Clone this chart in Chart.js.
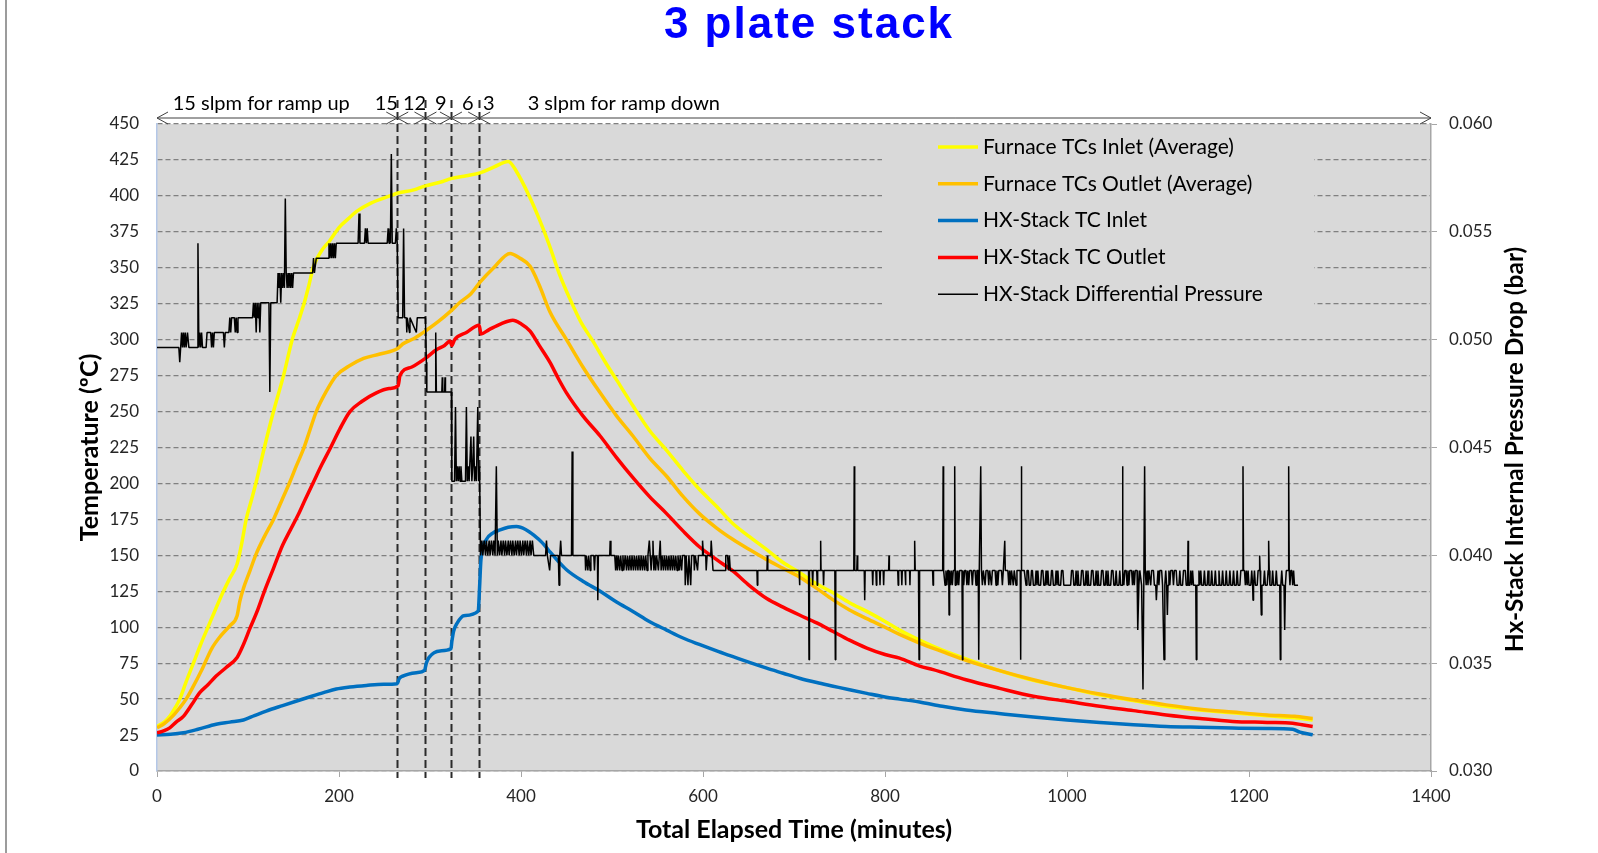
<!DOCTYPE html>
<html lang="en">
<head>
    <meta charset="UTF-8">
    <title>3 plate stack</title>
    <script src="https://cdn.jsdelivr.net/npm/chart.js"></script>
    <style>
        html, body {
            margin: 0;
            padding: 0;
            background: #fff;
        }
        .chart-container {
            width: 1598px;
            height: 853px;
        }
    </style>
</head>
<body>
    <div class="chart-container">
        <canvas id="stackChart" width="1598" height="853"></canvas>
    </div>
    <script>
        // [elapsed minutes, temperature degC]
        const furnaceInlet = [
            [0,31],[8,34],[14,38],[20,44],[25,50],[32,62],[40,75],[48,88],[56,100],[64,112],[73,125],[80,134],[88,144],
            [93,158],[98,175],[104,189],[109,201],[118,225],[128,250],[139,275],[149,301],[156,314],[162,326],[167,338],
            [172,351],[181,362],[190,369],[200,378],[210,384],[219,389],[235,395],[256,400],[265,402],[281,404],[295,407],
            [314,410],[323,412],[340,414],[355,416],[370,420],[386,424],[395,417],[409,400],[420,384],[431,366],[442,346],
            [454,328],[466,312],[479,299],[492,285],[505,272],[523,254],[541,237],[560,223],[578,209],[596,196],[615,184],
            [633,172],[651,163],[670,154],[688,145],[706,138],[725,130],[743,124],[761,117],[780,111],[800,104],[816,98],
            [838,91],[863,84],[889,78],[925,70],[963,63],[1000,58],[1036,53],[1073,49],[1109,45],[1146,42.5],[1182,40.5],
            [1220,38.5],[1250,37],[1270,35.5]
        ];
        const furnaceOutlet = [
            [0,30],[8,33],[17,38],[25,44],[32,50],[40,59],[49,70],[60,85],[70,94],[80,101],[88,108],[91,118],[95,127],
            [102,139],[109,151],[118,163],[128,175],[137,188],[146,201],[153,212],[161,224],[168,237],[175,250],[186,264],
            [197,275],[212,282],[227,287],[245,290],[265,294],[270,297],[283,301],[295,306],[310,313],[323,320],[333,326],
            [345,332],[355,340],[370,350],[388,360],[398,357],[410,351],[420,338],[432,319],[450,300],[468,281],[487,263],
            [505,247],[523,233],[541,218],[560,205],[578,191],[596,179],[615,169],[633,161],[651,154],[670,147],[688,141],
            [706,135],[725,127],[743,119],[761,112],[780,106],[800,100],[816,95],[838,89],[863,83],[889,77],[925,70],
            [963,63.5],[1000,58],[1036,53.5],[1073,49.5],[1109,46],[1146,43],[1182,41],[1220,39],[1250,38],[1270,36.5]
        ];
        const stackInlet = [
            [0,25],[15,25.5],[29,26.6],[45,29],[65,32.5],[80,34],[95,35.5],[107,38.5],[120,41.7],[138,45.5],[157,49.4],
            [170,52],[183,54.5],[197,57],[212,58.4],[230,59.5],[249,60.3],[264,60.7],[266,64],[270,66],[285,68.4],[294,70],
            [296,75],[299,79],[311,83.5],[323,85],[324,90],[326,97.4],[330,103],[337,108],[353,111.3],[354.5,128],[356,147],
            [362,161],[369,165.5],[377,167.7],[386,169.5],[395,170],[405,168],[415,163.5],[423,159],[431,153],[440,146.5],
            [450,140],[468,132],[487,125],[505,117.5],[523,111],[541,104],[560,98],[578,92.5],[596,88],[615,83.5],[633,79.5],
            [651,75.5],[670,71.5],[688,68],[706,64.5],[725,61.5],[743,59],[761,56.5],[780,54],[800,51.5],[816,50],[838,48],
            [863,45],[889,42.5],[925,40],[963,37.5],[1000,35.5],[1036,33.8],[1073,32.2],[1109,31],[1146,30.4],[1182,29.9],
            [1220,29.5],[1248,29],[1256,27],[1270,25.2]
        ];
        const stackOutlet = [
            [0,26.5],[8,28],[14,30],[21,34],[29,38],[38,46],[47,54.5],[56,60],[65,66],[76,72],[88,79],[95,88],[102,99],
            [110,111],[118,125],[128,141],[138,157],[146,167],[155,178],[163,189],[172,201],[181,213],[190,224],[201,238],
            [212,250],[225,257],[241,263],[255,266],[265,268],[267,275],[280,281],[295,287],[307,293],[316,296],[322,299],
            [324,296],[327,300],[340,305],[354,310],[356,304],[365,307],[378,311],[391,313.5],[400,311],[410,306],[420,296],
            [432,284],[441,273],[450,263],[468,247],[487,233],[505,218],[523,204],[541,191],[560,179],[578,167],[596,156],
            [615,147],[633,139],[651,129],[670,120],[688,114],[706,108.5],[725,103],[743,97],[761,91],[780,85.5],[800,81],
            [816,78.5],[838,73],[853,70.5],[889,63.5],[926,57.5],[963,52],[1000,48.5],[1036,45],[1073,42],[1109,39],
            [1146,36.5],[1182,34.5],[1220,33.8],[1248,33.2],[1260,32],[1270,31]
        ];

        // [elapsed minutes, differential pressure bar]
        const stackDp = [
            [0,.04964],[24,.04964],[25,.04895],[26,.04964],[27,.05033],[28,.04964],[29,.05033],[30,.04964],[31,.05033],[32,.04964],[33.5,.05033],[35,.04964],
            [44,.04964],[45,.05447],[46,.04964],[47,.05033],[48,.04964],[49,.05033],[50,.04964],[54,.04964],[55,.05033],[59,.05033],[60,.04964],[61,.05033],[62,.04964],[63,.05033],
            [73,.05033],[74,.04964],[75,.05033],[79,.05033],[80,.05102],[81,.05033],[82,.05102],[85,.05102],[86,.05033],[87,.05102],[88,.05033],[89,.05102],
            [105,.05102],[106,.05171],[107,.05102],[108,.05171],[109,.05033],[110,.05171],[111,.05102],[112,.05171],[113,.05033],[114,.05171],
            [123,.05171],[124,.04757],[125,.05171],[132,.05171],[133,.05309],[134,.0524],[135,.05309],[136,.05171],[137,.05309],[138,.0524],[139,.05309],[140,.0524],
            [141,.05654],[142,.05309],[143,.0524],[144,.05309],[145,.0524],[146,.05309],[147,.0524],[148,.05309],[149,.0524],[150,.05309],
            [171,.05309],[172,.05378],[173,.05309],[175,.05378],[188,.05378],[189,.05447],[190,.05378],[191,.05447],[192,.05378],[193,.05447],[194,.05378],[195,.05447],[196,.05378],[197,.05447],
            [221,.05447],[222,.05585],[223,.05447],[228,.05447],[229,.05516],[230,.05447],[231,.05516],[232,.05447],
            [253,.05447],[254,.05516],[255,.05447],[256,.05516],[256.5,.05447],[257.5,.05861],[258.5,.05447],[262,.05447],[263,.05516],[264,.05447],[265,.05102],
            [270,.05102],[271,.05516],[272,.05102],[274,.05102],[274.5,.05033],[275,.05102],[277.5,.05033],[278,.05102],[285,.05033],[286,.05102],[295,.05102],[296,.04895],[296.5,.04757],
            [305.5,.04757],[306.3,.05033],[307,.04757],[313,.04757],[313.5,.04826],[314,.04757],[316,.04757],[316.5,.04826],[317,.04757],[323.5,.04757],[324,.04344],
            [327,.04344],[328,.04688],[329,.04344],[330,.04413],[331,.04344],[332,.04413],[333,.04344],[334,.04413],[335,.04344],[339,.04344],[340,.04688],[341,.04344],
            [342,.04413],[343,.04344],[345,.04551],[346,.04344],[347,.04413],[348,.04551],[349,.04344],[350,.04413],[351,.04344],[352.5,.04688],[353.5,.04344],[354,.04413],[354.6,.04344],[355.5,.03999],
            [357,.04068],[358,.03999],[359.5,.04068],[361,.03999],[362,.04068],[363.5,.03999],[365,.04068],[366,.03999],[367.5,.04068],[369,.03999],[370,.04068],[371.5,.03999],
            [372.9,.04413],[374,.03999],[375,.04068],[376.5,.03999],[378,.04068],[379,.03999],[380.5,.04068],[382,.03999],[383,.04068],[384.5,.03999],[386,.04068],[387,.03999],
            [388.5,.04068],[390,.03999],[391,.04068],[392.5,.03999],[394,.04068],[395,.03999],[396.5,.04068],[398,.03999],[399,.04068],[400.5,.03999],[402,.04068],[403,.03999],
            [404.5,.04068],[406,.03999],[407,.04068],[408.5,.03999],[410,.04068],[411,.03999],[412.5,.04068],[414,.03999],
            [427,.03999],[428,.04068],[429,.03999],[431.5,.0393],[432.5,.03999],[441,.03999],[441.8,.03861],[442.6,.03999],[443.6,.04068],[444.5,.03999],[455.5,.03999],[456.2,.04482],[457,.03999],
            [470.5,.03999],[471,.0393],[471.8,.03999],[473.5,.0393],[474.3,.03999],[476,.0393],[476.8,.03999],[480,.03999],[480.7,.0393],[481.5,.03999],[484,.03999],[484.4,.03792],[485,.03999],
            [497.5,.03999],[498,.04068],[498.8,.03999],[503,.03999],[504,.0393],[505,.03999],[506,.0393],[507,.03999],[508.5,.0393],[509.5,.03999],[511,.0393],[512,.03999],[513,.0393],
            [514.5,.03999],[516,.0393],[517,.03999],[518.5,.0393],[519.5,.03999],[521,.0393],[522,.03999],[523.5,.0393],[524.5,.03999],[526,.0393],[527,.03999],[528.5,.0393],[529.5,.03999],
            [531,.0393],[532,.03999],[533.5,.0393],[534.5,.03999],[536,.0393],[537,.03999],[538.5,.0393],[539.5,.03999],[541,.04068],[542,.03999],[543,.0393],[544,.03999],[545,.04068],
            [546,.0393],[547,.03999],[548,.0393],[549,.03999],[551,.0393],[552,.03999],[553,.04068],[554,.0393],[555,.03999],[556.5,.0393],[557.5,.03999],[559,.0393],[560,.03999],
            [561.5,.0393],[562.5,.03999],[564,.0393],[565,.03999],[566.5,.0393],[567.5,.03999],[569,.0393],[570,.03999],[571.5,.0393],[572.5,.03999],[574,.0393],[575,.03999],[576.5,.0393],
            [577.5,.03999],[580,.03999],[580.5,.03861],[581.5,.03999],[583.5,.03861],[584.5,.03999],[586.5,.03861],[587.5,.03999],[590,.03999],[590.5,.0393],[591.5,.03999],[594,.0393],
            [595,.03999],[599,.03999],[599.5,.04068],[600.5,.03999],[603,.03999],[603.5,.0393],[604.5,.03999],[608.5,.03999],[609,.04068],[610,.03999],[611,.0393],
            [624.5,.0393],[625,.03999],[627,.03999],[628,.0393],[629,.03999],[630,.0393],[659.3,.0393],[659.7,.03861],[660.2,.0393],[670.3,.0393],[670.7,.03999],[671.2,.0393],
            [705.6,.0393],[706,.03861],[706.5,.0393],[716,.0393],[716.5,.03516],[717,.0393],[720,.0393],[720.5,.03861],[721,.0393],[725,.0393],[725.5,.03861],[726,.0393],
            [729,.0393],[729.3,.04068],[729.7,.0393],[732,.0393],[732.5,.03861],[733,.0393],[744.9,.0393],[745.4,.03516],[745.9,.0393],[765.7,.0393],[766.2,.04413],[766.7,.0393],
            [769,.0393],[769.5,.03999],[770,.0393],[777.2,.0393],[777.7,.03792],[778.2,.0393],[786,.0393],[786.5,.03861],[787,.0393],[790,.0393],[790.5,.03861],[791,.0393],
            [794,.0393],[794.5,.03861],[795,.0393],[798,.0393],[798.5,.03861],[799,.0393],[804,.0393],[804.4,.03999],[804.8,.0393],[814,.0393],[814.5,.03861],[815,.0393],
            [818,.0393],[818.5,.03861],[819,.0393],[822,.0393],[822.5,.03861],[823,.0393],
            [827,.0393],[827.4,.03861],[827.8,.0393],[832,.0393],[832.6,.04068],[833.2,.0393],[836.8,.0393],[837.4,.03516],[838,.0393],[852.3,.0393],[852.8,.03861],[853.3,.0393],
            [863.4,.0393],[863.9,.04413],[864.4,.0393],[866,.03861],[867,.0393],[868,.03861],[869,.0393],[870,.0393],[870.4,.03723],[871,.0393],[872,.03861],[873,.0393],[874,.03861],
            [875,.0393],[876,.0393],[876.6,.04413],[877.2,.03861],[878,.0393],[879,.03861],[880,.0393],[881,.03861],[882,.0393],[884.6,.0393],[885.1,.03516],[885.6,.0393],[886.5,.03861],
            [887.5,.0393],[889,.0393],[890,.03861],[891,.0393],[892,.03861],[893,.0393],[895,.0393],[896,.03861],[897,.0393],[899,.0393],[900,.03861],[901,.0393],[902.5,.0393],
            [903,.03516],[903.6,.0393],[905.2,.04413],[906,.0393],[907,.03861],[908,.0393],[910,.03861],[911,.0393],[913,.0393],[914,.03861],[915,.0393],[917,.03861],[918,.0393],
            [921,.0393],[922,.03861],[923,.0393],[924,.03861],[925,.0393],[928,.0393],[929,.03861],[930,.0393],[931.6,.04068],[932.2,.0393],[935,.0393],[936,.03861],[937,.0393],
            [938,.03861],[939,.0393],[941,.03861],[942,.0393],[944,.03861],[945,.0393],[948.6,.0393],[949.1,.03516],[949.5,.0393],[949.8,.04413],[950.3,.0393],[953,.0393],[955,.03861],
            [956,.0393],[957.5,.0393],[958.5,.03861],[960,.03861],[961,.0393],[962,.0393],[963,.03861],[965,.03861],[966,.0393],[967,.03861],[968,.0393],[969,.03861],[971,.03861],
            [972,.0393],[973.5,.0393],[974.5,.03861],[976,.03861],[977,.0393],[978,.03861],[979,.0393],[980,.03861],[982,.03861],[983,.0393],[984,.0393],[985,.03861],[987,.03861],
            [988,.0393],[989,.03861],[990,.0393],[991,.03861],[993,.03861],[994,.0393],[995.5,.0393],[996.5,.03861],[1004,.03861],[1005,.0393],[1006.5,.0393],[1007.5,.03861],
            [1009,.03861],[1010,.0393],[1011,.03861],[1012,.0393],[1013,.03861],[1015,.03861],[1016,.0393],[1017.5,.0393],[1018.5,.03861],[1020,.03861],[1021,.0393],[1022,.03861],
            [1023,.0393],[1024,.03861],[1026,.03861],[1027,.0393],[1028.5,.0393],[1029.5,.03861],[1031,.03861],[1032,.0393],[1033,.03861],[1034,.0393],[1035,.03861],[1037,.03861],
            [1038,.0393],[1039.5,.0393],[1040.5,.03861],[1042,.03861],[1043,.0393],[1044,.03861],[1045,.0393],[1046,.03861],[1048,.03861],[1049,.0393],[1050.5,.0393],[1051.5,.03861],
            [1053,.03861],[1054,.0393],[1055,.03861],[1057,.03861],[1058,.0393],[1059,.03861],
            [1060.5,.03861],[1061,.04413],[1061.5,.0393],[1062.5,.03861],[1063.5,.0393],[1065,.0393],[1066,.03861],[1067,.0393],[1068,.03861],[1069,.0393],[1071,.0393],[1072,.03861],
            [1073,.0393],[1074,.03861],[1075,.0393],[1077,.0393],[1077.5,.03861],[1078,.03654],[1079,.03861],[1080,.0393],[1082,.03861],[1083.5,.03378],[1084.5,.0393],[1085.3,.04413],
            [1086,.0393],[1087,.03861],[1088,.0393],[1089,.03861],[1090,.0393],[1092,.03861],[1093,.0393],[1095,.0393],[1096,.03861],[1097.5,.03861],[1098.2,.03792],[1099,.03861],
            [1100,.0393],[1101,.03861],[1102,.0393],[1104,.0393],[1105,.03861],[1106.6,.03516],[1107.5,.03861],[1108.5,.0393],[1109.5,.03861],[1110.3,.03723],[1111,.03861],[1112,.0393],
            [1113,.03861],[1114,.0393],[1116,.0393],[1117,.03861],[1118,.0393],[1120,.0393],[1121,.03861],[1123,.03861],[1124,.0393],[1125,.03861],[1127,.03861],[1128,.0393],[1130,.0393],
            [1131,.03861],[1132.5,.03861],[1133,.04068],[1133.5,.03861],[1135,.03861],[1136,.0393],[1137,.03861],[1138,.0393],[1139,.03861],[1141.5,.03861],[1142.1,.03516],[1142.7,.03861],
            [1144,.03861],[1145,.0393],[1146,.03861],[1147,.0393],[1148,.03861],[1150,.03861],[1151,.0393],[1152,.03861],[1154,.03861],[1155,.0393],[1156,.03861],[1158,.03861],[1159,.0393],
            [1160,.03861],[1162,.03861],[1163,.0393],[1164,.03861],[1166,.03861],[1167,.0393],[1168,.03861],[1170,.03861],[1171,.0393],[1172,.03861],[1174,.03861],[1175,.0393],[1176,.03861],
            [1178,.03861],[1179,.0393],[1180,.03861],[1182,.03861],[1183,.0393],[1184,.03861],[1186,.03861],[1187,.0393],[1188,.03861],[1190,.03861],[1191,.0393],[1192.8,.0393],[1193.4,.04413],
            [1194,.0393],[1195,.0393],[1196,.03861],[1197,.0393],[1198,.03861],[1199,.0393],[1200,.03861],[1202,.03861],[1203,.0393],[1204,.03861],[1204.4,.03792],[1205,.03861],[1206,.0393],
            [1207,.03861],[1209,.03861],[1210,.0393],[1211.2,.0393],[1211.7,.03999],[1212.2,.0393],[1212.8,.03861],[1213.5,.03723],[1214.2,.03861],[1216,.03861],[1217,.0393],[1218,.03861],
            [1220,.03861],[1221,.0393],[1221.6,.04068],[1222.2,.0393],[1223,.03861],[1225,.03861],[1226,.0393],[1227,.03861],[1229,.03861],[1230,.0393],[1231,.03861],[1233.8,.03861],
            [1234.4,.03516],[1235,.03861],[1236,.0393],[1237,.03861],[1238.5,.03861],[1239.2,.03654],[1240,.03861],[1241,.0393],[1243,.0393],[1243.6,.04413],[1244.2,.0393],[1245,.03861],
            [1246,.0393],[1247,.0393],[1248,.03861],[1249,.0393],[1250,.03861],[1253.9,.03861]
        ];

        // flow-rate change times (min) and the flow labels above the plot
        const flowChanges = [264, 295, 323, 354];
        const flowLabels = ['15 slpm for ramp up', '15', '12', '9', '6', '3', '3 slpm for ramp down'];
        const flowLabelAt = [114.5, 252, 283, 312, 341.5, 364.5, 513];

        const FONT = 'Lato';

        // page background, plot fill, stage lines, arrows, legend and titles
        const sheetDecor = {
            id: 'sheetDecor',
            beforeDraw(chart) {
                const {ctx, chartArea: a, width, height} = chart;
                ctx.save();
                ctx.fillStyle = '#ffffff';
                ctx.fillRect(0, 0, width, height);
                ctx.fillStyle = '#9c9c9c';
                ctx.fillRect(5, 0, 2, height);
                ctx.fillStyle = '#d9d9d9';
                ctx.fillRect(a.left, a.top, a.right - a.left, a.bottom - a.top);
                ctx.restore();
            },
            beforeDatasetsDraw(chart) {
                const {ctx, scales: {x}, chartArea: a} = chart;
                ctx.save();
                ctx.strokeStyle = '#2b2b2b';
                ctx.lineWidth = 2;
                ctx.setLineDash([8, 4]);
                flowChanges.forEach(t => {
                    const px = Math.round(x.getPixelForValue(t)) + 0.5;
                    ctx.beginPath();
                    ctx.moveTo(px, 100);
                    ctx.lineTo(px, a.bottom + 7);
                    ctx.stroke();
                });
                ctx.restore();
            },
            afterDatasetsDraw(chart) {
                const {ctx, scales: {x}, chartArea: a} = chart;
                ctx.save();

                // legend box inside the plot
                ctx.fillStyle = '#d9d9d9';
                ctx.fillRect(882, 128, 432, 189);
                ctx.font = '21px ' + FONT;
                ctx.textBaseline = 'middle';
                ctx.textAlign = 'left';
                chart.data.datasets.forEach((ds, i) => {
                    const y = 147 + i * 36.8;
                    ctx.strokeStyle = ds.borderColor;
                    ctx.lineWidth = ds.borderWidth;
                    ctx.beginPath();
                    ctx.moveTo(938, y);
                    ctx.lineTo(978, y);
                    ctx.stroke();
                    ctx.fillStyle = '#000';
                    ctx.fillText(ds.label, 983, y);
                });

                // flow arrows above the plot
                const ay = 118;
                const bounds = [0].concat(flowChanges, [1400]);
                ctx.strokeStyle = '#404040';
                ctx.lineWidth = 1;
                for (let i = 0; i < bounds.length - 1; i++) {
                    const x0 = x.getPixelForValue(bounds[i]);
                    const x1 = x.getPixelForValue(bounds[i + 1]);
                    ctx.beginPath();
                    ctx.moveTo(x0, ay);
                    ctx.lineTo(x1, ay);
                    ctx.moveTo(x0 + 11, ay - 6);
                    ctx.lineTo(x0, ay);
                    ctx.lineTo(x0 + 11, ay + 6);
                    ctx.moveTo(x1 - 11, ay - 6);
                    ctx.lineTo(x1, ay);
                    ctx.lineTo(x1 - 11, ay + 6);
                    ctx.stroke();
                }
                ctx.fillStyle = '#000';
                ctx.textAlign = 'center';
                ctx.textBaseline = 'alphabetic';
                ctx.font = '20px ' + FONT;
                flowLabels.forEach((txt, i) => {
                    ctx.fillText(txt, x.getPixelForValue(flowLabelAt[i]), 110);
                });

                // chart title
                ctx.font = 'bold 44px "Liberation Sans"';
                ctx.fillStyle = '#0000ff';
                ctx.letterSpacing = '2px';
                ctx.fillText('3 plate stack', 809, 38);
                ctx.letterSpacing = '0px';

                // right axis title, reads bottom to top
                ctx.translate(1515, (a.top + a.bottom) / 2 + 2);
                ctx.rotate(-Math.PI / 2);
                ctx.font = 'bold 24.5px ' + FONT;
                ctx.fillStyle = '#000';
                ctx.textBaseline = 'middle';
                ctx.fillText('Hx-Stack Internal Pressure Drop (bar)', 0, 0);
                ctx.restore();
            }
        };

        const tickFont = {family: FONT, size: 17};
        const titleFont = {family: FONT, size: 25, weight: 'bold'};

        const config = {
            type: 'line',
            data: {
                datasets: [
                    {
                        label: 'Furnace TCs Inlet (Average)',
                        data: furnaceInlet,
                        borderColor: '#ffff00',
                        borderWidth: 3.5,
                        cubicInterpolationMode: 'monotone',
                        yAxisID: 'y',
                        order: 4
                    },
                    {
                        label: 'Furnace TCs Outlet (Average)',
                        data: furnaceOutlet,
                        borderColor: '#ffc000',
                        borderWidth: 3.5,
                        cubicInterpolationMode: 'monotone',
                        yAxisID: 'y',
                        order: 3
                    },
                    {
                        label: 'HX-Stack TC Inlet',
                        data: stackInlet,
                        borderColor: '#0070c0',
                        borderWidth: 3.5,
                        cubicInterpolationMode: 'monotone',
                        yAxisID: 'y',
                        order: 2
                    },
                    {
                        label: 'HX-Stack TC Outlet',
                        data: stackOutlet,
                        borderColor: '#ff0000',
                        borderWidth: 3.5,
                        cubicInterpolationMode: 'monotone',
                        yAxisID: 'y',
                        order: 1
                    },
                    {
                        label: 'HX-Stack Differential Pressure',
                        data: stackDp,
                        borderColor: '#000000',
                        borderWidth: 1.5,
                        tension: 0,
                        borderJoinStyle: 'bevel',
                        yAxisID: 'y1',
                        order: 0
                    }
                ]
            },
            options: {
                responsive: false,
                animation: false,
                events: [],
                elements: {
                    point: { radius: 0 },
                    line: { fill: false, borderCapStyle: 'butt' }
                },
                layout: {
                    padding: { top: 124, left: 0, right: 0, bottom: 0 }
                },
                plugins: {
                    legend: { display: false },
                    title: { display: false },
                    tooltip: { enabled: false }
                },
                scales: {
                    x: {
                        type: 'linear',
                        min: 0,
                        max: 1400,
                        ticks: {
                            stepSize: 200,
                            font: tickFont,
                            color: '#262626',
                            padding: 9,
                            maxRotation: 0,
                            callback: v => String(v)
                        },
                        grid: { drawOnChartArea: false, drawTicks: true, tickLength: 6, color: '#a6a6a6' },
                        border: { color: '#a6a6a6', width: 1.5 },
                        title: {
                            display: true,
                            text: 'Total Elapsed Time (minutes)',
                            font: titleFont,
                            color: '#000',
                            padding: { top: 0, bottom: 8 }
                        },
                        afterFit(scale) { scale.height = 82; }
                    },
                    y: {
                        position: 'left',
                        min: 0,
                        max: 450,
                        ticks: { stepSize: 25, font: tickFont, color: '#262626', padding: 18 },
                        grid: { color: '#808080', lineWidth: 1.3, drawTicks: false },
                        border: { color: '#b4c7e7', width: 1.5, dash: [5, 3] },
                        title: {
                            display: true,
                            text: 'Temperature (ºC)',
                            font: titleFont,
                            color: '#000',
                            padding: { top: 75, bottom: 0 }
                        },
                        afterFit(scale) { scale.width = 157; }
                    },
                    y1: {
                        position: 'right',
                        min: 0.03,
                        max: 0.06,
                        ticks: {
                            stepSize: 0.005,
                            font: tickFont,
                            color: '#262626',
                            padding: 12,
                            callback: v => v.toFixed(3)
                        },
                        grid: { drawOnChartArea: false, drawTicks: true, tickLength: 6, color: '#a6a6a6' },
                        border: { color: '#a6a6a6', width: 1.5 },
                        afterFit(scale) { scale.width = 167; }
                    }
                }
            },
            plugins: [sheetDecor]
        };

        const stackChart = new Chart(document.getElementById('stackChart'), config);
    </script>
</body>
</html>
